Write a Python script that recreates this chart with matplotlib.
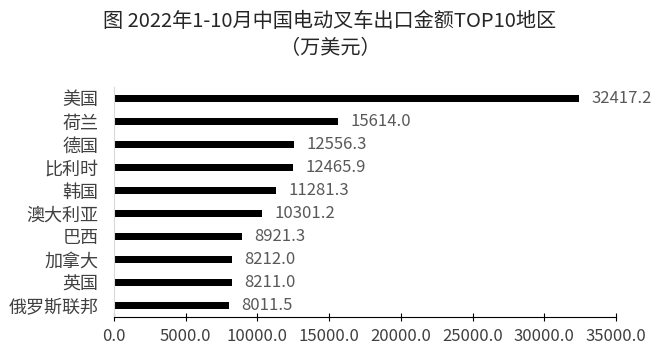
import matplotlib
matplotlib.use("Agg")
import matplotlib.pyplot as plt

plt.rcParams['font.family'] = ['Noto Sans CJK SC', 'DejaVu Sans']

categories = ["美国", "荷兰", "德国", "比利时", "韩国", "澳大利亚", "巴西", "加拿大", "英国", "俄罗斯联邦"]
values = [32417.2, 15614.0, 12556.3, 12465.9, 11281.3, 10301.2, 8921.3, 8212.0, 8211.0, 8011.5]
xticks = [0, 5000, 10000, 15000, 20000, 25000, 30000, 35000]
title = "图 2022年1-10月中国电动叉车出口金额TOP10地区\n（万美元）"

fig = plt.figure(figsize=(6.6, 3.57), dpi=100)
ax = fig.add_axes([114/660, 1-317/357, (616-114)/660, (317-87)/357])

y = list(range(len(categories)))
ax.barh(y, values, height=0.34, color="black")
ax.set_ylim(len(categories) - 0.5, -0.5)
ax.set_yticks(y)
ax.set_yticklabels(categories, fontsize=13, color="#404040")
ax.set_xlim(0, 35000)
ax.set_xticks(xticks)
ax.set_xticklabels([f"{t:.1f}" for t in xticks], fontsize=12, color="#404040")

for yi, v in zip(y, values):
    ax.annotate(f"{v:.1f}", (v, yi), xytext=(9, 0), textcoords="offset points",
                va="center", ha="left", fontsize=12, color="#595959")

for s in ["top", "right"]:
    ax.spines[s].set_visible(False)
ax.spines["left"].set_color("#d9d9d9")
ax.spines["bottom"].set_color("black")
ax.tick_params(axis="y", length=0, pad=11)
ax.tick_params(axis="x", direction="inout", length=6, color="black", pad=5)

fig.text(0.5, 1-35/357, title, ha="center", va="center", fontsize=14.5, linespacing=1.35, color="#262626")

fig.savefig("out.png", dpi=100)
